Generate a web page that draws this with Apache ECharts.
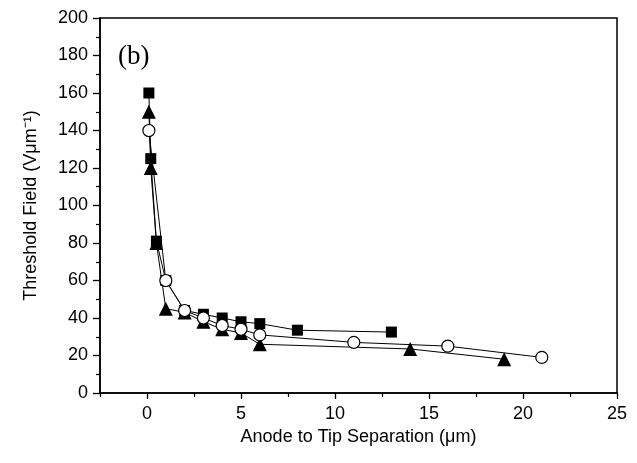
<!DOCTYPE html>
<html>
<head>
<meta charset="utf-8">
<script src="https://cdn.jsdelivr.net/npm/echarts@6/dist/echarts.min.js"></script>
<style>
html,body{margin:0;padding:0;background:#fff;}
#chart{width:637px;height:463px;}
</style>
</head>
<body>
<div id="chart"></div>
<script>
// Data
const squareX = [0.1, 0.2, 0.5, 1, 2, 3, 4, 5, 6, 8, 13];
const squareY = [160, 125, 81, 60, 44, 42, 40, 38, 37, 33.5, 32.5];
const circleX = [0.1, 1, 2, 3, 4, 5, 6, 11, 16, 21];
const circleY = [140, 60, 44, 40, 36, 34, 31, 27, 25, 19];
const triX = [0.1, 0.2, 0.5, 1, 2, 3, 4, 5, 6, 14, 19];
const triY = [150, 120, 80, 45, 43, 38, 34, 32, 26, 23.5, 18];

const xMajorTicks = [0, 5, 10, 15, 20, 25];
const xMinorTicks = [-2.5, 2.5, 7.5, 12.5, 17.5, 22.5];

const xTitle = 'Anode to Tip Separation (\u03bcm)';
const yTitle = 'Threshold Field (V\u03bcm\u207b\u00b9)';
const panelLabel = '(b)';

function pairs(xs, ys) { return xs.map((x, i) => [x, ys[i]]); }

const font = 'Liberation Sans, Arial, sans-serif';
const chart = echarts.init(document.getElementById('chart'));
chart.setOption({
  animation: false,
  backgroundColor: '#fff',
  grid: { left: 100, right: 20, top: 18, bottom: 70, show: true, borderColor: '#000', borderWidth: 1.5, backgroundColor: 'transparent' },
  xAxis: [
    {
      type: 'value', min: -2.5, max: 25,
      name: xTitle, nameLocation: 'middle', nameGap: 35,
      nameTextStyle: { fontFamily: font, fontSize: 18, color: '#000' },
      axisLine: { show: true, onZero: false, lineStyle: { color: '#000', width: 1.5 } },
      axisTick: { show: true, inside: false, length: 6, customValues: xMajorTicks, lineStyle: { color: '#000', width: 1.3 } },
      axisLabel: { show: true, customValues: xMajorTicks, margin: 12, fontFamily: font, fontSize: 18, color: '#000' },
      splitLine: { show: false }
    },
    {
      type: 'value', min: -2.5, max: 25, position: 'bottom',
      axisLine: { show: false, onZero: false },
      axisTick: { show: true, inside: false, length: 4, customValues: xMinorTicks, lineStyle: { color: '#000', width: 1.2 } },
      axisLabel: { show: false },
      splitLine: { show: false }
    }
  ],
  yAxis: {
    type: 'value', min: 0, max: 200, interval: 20,
    name: yTitle, nameLocation: 'middle', nameGap: 60, nameRotate: 90,
    nameTextStyle: { fontFamily: font, fontSize: 18, color: '#000' },
    axisLine: { show: true, onZero: false, lineStyle: { color: '#000', width: 1.5 } },
    axisTick: { show: true, inside: false, length: 7, lineStyle: { color: '#000', width: 1.3 } },
    minorTick: { show: true, splitNumber: 2, length: 4, lineStyle: { color: '#000', width: 1.2 } },
    axisLabel: { margin: 12, fontFamily: font, fontSize: 18, color: '#000' },
    splitLine: { show: false }
  },
  graphic: [
    { type: 'text', left: 118, top: 43, style: { text: panelLabel, font: '27px "Liberation Serif", "Times New Roman", serif', fill: '#000' } }
  ],
  series: [
    {
      type: 'line', data: pairs(triX, triY), xAxisIndex: 0,
      symbol: 'triangle', symbolSize: 14,
      itemStyle: { color: '#000' },
      lineStyle: { color: '#000', width: 1 }, z: 2
    },
    {
      type: 'line', data: pairs(squareX, squareY), xAxisIndex: 0,
      symbol: 'rect', symbolSize: 11,
      itemStyle: { color: '#000' },
      lineStyle: { color: '#000', width: 1 }, z: 3
    },
    {
      type: 'line', data: pairs(circleX, circleY), xAxisIndex: 0,
      symbol: 'circle', symbolSize: 12,
      itemStyle: { color: '#fff', borderColor: '#000', borderWidth: 1.2 },
      lineStyle: { color: '#000', width: 1 }, z: 4
    }
  ]
});
</script>
</body>
</html>
